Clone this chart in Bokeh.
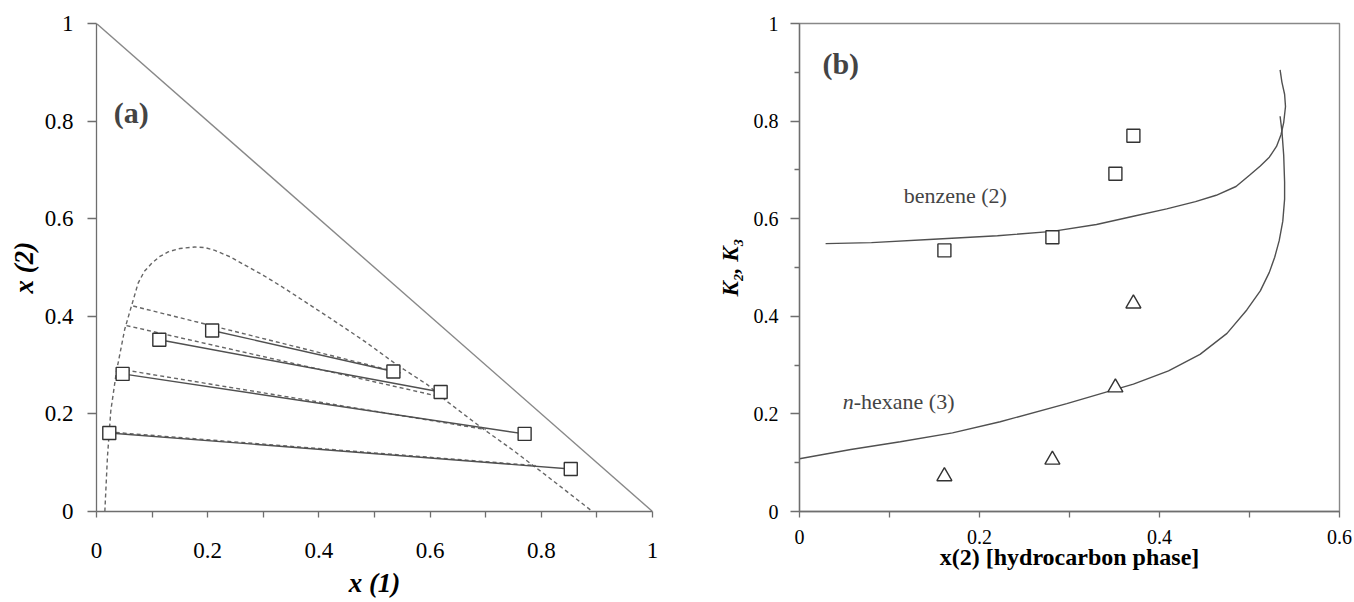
from bokeh.plotting import figure
from bokeh.models import FixedTicker, Label, ColumnDataSource
from bokeh.layouts import row
from bokeh.embed import file_html
from bokeh.resources import INLINE

FONT = "Liberation Serif"

# ---------------- Panel (a): ternary diagram data ----------------
binodal_x1 = [0.015, 0.0197, 0.0257, 0.0359, 0.0509, 0.0629, 0.0749, 0.086, 0.0989, 0.1130,
              0.1289, 0.150, 0.1769, 0.195, 0.2129, 0.240, 0.2669, 0.300, 0.333, 0.360, 0.387,
              0.435, 0.487, 0.541, 0.595, 0.631, 0.691, 0.751, 0.811, 0.892]
binodal_x2 = [0.0, 0.112, 0.206, 0.287, 0.374, 0.421, 0.468, 0.492, 0.508, 0.522,
              0.532, 0.539, 0.542, 0.541, 0.535, 0.522, 0.505, 0.484, 0.461, 0.441, 0.421,
              0.385, 0.345, 0.300, 0.260, 0.225, 0.173, 0.124, 0.072, 0.0]

# experimental tie lines (left end / right end)
exp_left_x1 = [0.023, 0.047, 0.113, 0.208]
exp_left_x2 = [0.161, 0.282, 0.352, 0.371]
exp_right_x1 = [0.853, 0.770, 0.619, 0.534]
exp_right_x2 = [0.087, 0.159, 0.245, 0.287]

# predicted tie lines (dashed)
pred_left_x1 = [0.022, 0.040, 0.054, 0.066]
pred_left_x2 = [0.163, 0.292, 0.381, 0.421]
pred_right_x1 = [0.790, 0.700, 0.619, 0.547]
pred_right_x2 = [0.094, 0.168, 0.235, 0.284]

edge_x1 = [0.0, 1.0]
edge_x2 = [1.0, 0.0]

ticks_a = [0, 0.2, 0.4, 0.6, 0.8, 1.0]
minor_a = [0.1, 0.3, 0.5, 0.7, 0.9]
tick_labels_a = ["0", "0.2", "0.4", "0.6", "0.8", "1"]

# ---------------- Panel (b): distribution coefficients ----------------
x2_hc = [0.161, 0.281, 0.351, 0.371]
K2_exp = [0.535, 0.562, 0.692, 0.770]
K3_exp = [0.072, 0.106, 0.254, 0.426]

K2_curve_x = [0.029, 0.08, 0.149, 0.22, 0.281, 0.33, 0.371, 0.408, 0.440, 0.463, 0.485, 0.500,
              0.512, 0.522, 0.530, 0.535, 0.538, 0.540, 0.539, 0.536, 0.534]
K2_curve_y = [0.549, 0.551, 0.558, 0.565, 0.574, 0.588, 0.605, 0.620, 0.635, 0.648, 0.666, 0.689,
              0.708, 0.726, 0.748, 0.772, 0.797, 0.830, 0.855, 0.880, 0.905]
K3_curve_x = [0.0, 0.057, 0.112, 0.17, 0.223, 0.297, 0.371, 0.410, 0.445, 0.475, 0.497, 0.512,
              0.522, 0.528, 0.533, 0.537, 0.539, 0.539, 0.538, 0.536, 0.534]
K3_curve_y = [0.108, 0.127, 0.143, 0.161, 0.184, 0.221, 0.261, 0.288, 0.322, 0.365, 0.413, 0.452,
              0.490, 0.521, 0.555, 0.595, 0.640, 0.675, 0.730, 0.780, 0.810]

xticks_b = [0, 0.2, 0.4, 0.6]
xminor_b = [0.1, 0.3, 0.5]
xtick_labels_b = ["0", "0.2", "0.4", "0.6"]
yticks_b = [0, 0.2, 0.4, 0.6, 0.8, 1.0]
yminor_b = [0.1, 0.3, 0.5, 0.7, 0.9]
ytick_labels_b = ["0", "0.2", "0.4", "0.6", "0.8", "1"]

AX = "#6e6e6e"
LINE = "#505050"
DASH = "#666666"
MK = "#333333"


def style_axis(ax, ticks, minor, labels, tick_size, title_size):
    ax.ticker = FixedTicker(ticks=ticks, minor_ticks=minor)
    ax.major_label_overrides = {t: s for t, s in zip(ticks, labels)}
    ax.axis_line_color = AX
    ax.axis_line_width = 1.3
    ax.major_tick_line_color = AX
    ax.minor_tick_line_color = AX
    ax.major_tick_line_width = 1.3
    ax.minor_tick_line_width = 1.3
    ax.major_tick_in = 0
    ax.minor_tick_in = 0
    ax.major_label_text_font = FONT
    ax.major_label_text_font_size = tick_size
    ax.major_label_text_color = "black"
    ax.axis_label_text_font = FONT
    ax.axis_label_text_font_size = title_size
    ax.axis_label_text_color = "black"


# ---------- figure (a) ----------
p1 = figure(width=680, height=602, x_range=(0, 1), y_range=(0, 1),
            output_backend="svg", toolbar_location=None,
            min_border_left=96, min_border_right=28, min_border_top=23, min_border_bottom=83)
p1.outline_line_color = None
p1.background_fill_color = "white"
p1.border_fill_color = "white"
p1.xgrid.visible = False
p1.ygrid.visible = False
xa1 = p1.xaxis[0]
ya1 = p1.yaxis[0]
style_axis(xa1, ticks_a, minor_a, tick_labels_a, "23px", "27px")
style_axis(ya1, ticks_a, [], tick_labels_a, "23px", "27px")
xa1.major_tick_out = 6
xa1.minor_tick_out = 6
xa1.major_label_standoff = 25
ya1.major_tick_out = 9
ya1.minor_tick_out = 0
ya1.major_label_standoff = 14
xa1.axis_label = "x (1)"
xa1.axis_label_text_font_style = "bold italic"
xa1.axis_label_standoff = 7
ya1.axis_label = "x (2)"
ya1.axis_label_text_font_style = "bold italic"
ya1.axis_label_standoff = 3

p1.line(edge_x1, edge_x2, line_color="#888888", line_width=1.4)
p1.line(binodal_x1, binodal_x2, line_color=DASH, line_width=1.4, line_dash="4 3")

pred_src = ColumnDataSource(dict(x0=pred_left_x1, y0=pred_left_x2, x1=pred_right_x1, y1=pred_right_x2))
p1.segment("x0", "y0", "x1", "y1", source=pred_src, line_color=DASH, line_width=1.4, line_dash="4 3")

exp_src = ColumnDataSource(dict(x0=exp_left_x1, y0=exp_left_x2, x1=exp_right_x1, y1=exp_right_x2))
p1.segment("x0", "y0", "x1", "y1", source=exp_src, line_color=LINE, line_width=1.4)
p1.scatter(exp_left_x1 + exp_right_x1, exp_left_x2 + exp_right_x2, marker="square", size=13,
           fill_color="white", line_color=MK, line_width=1.4)

p1.add_layout(Label(x=0.031, y=0.818, text="(a)", text_font=FONT, text_font_size="30px",
                    text_font_style="bold", text_align="left", text_baseline="middle"))

# ---------- figure (b) ----------
p2 = figure(width=674, height=602, x_range=(0, 0.6), y_range=(0, 1),
            output_backend="svg", toolbar_location=None,
            min_border_left=119, min_border_right=15, min_border_top=16, min_border_bottom=91)
p2.outline_line_color = "#888888"
p2.outline_line_width = 1.4
p2.background_fill_color = "white"
p2.border_fill_color = "white"
p2.xgrid.visible = False
p2.ygrid.visible = False
xa2 = p2.xaxis[0]
ya2 = p2.yaxis[0]
style_axis(xa2, xticks_b, xminor_b, xtick_labels_b, "20px", "24px")
style_axis(ya2, yticks_b, yminor_b, ytick_labels_b, "20px", "23px")
xa2.major_tick_out = 6
xa2.minor_tick_out = 6
xa2.major_label_standoff = 12
ya2.major_tick_out = 9
ya2.minor_tick_out = 5
ya2.major_label_standoff = 12
xa2.axis_label = "x(2) [hydrocarbon phase]"
xa2.axis_label_text_font_style = "bold"
xa2.axis_label_standoff = -3
ya2.axis_label = "K₂, K₃"
ya2.axis_label_text_font_style = "bold italic"
ya2.axis_label_standoff = 8

p2.line(K2_curve_x, K2_curve_y, line_color=LINE, line_width=1.4)
p2.line(K3_curve_x, K3_curve_y, line_color=LINE, line_width=1.4)
p2.scatter(x2_hc, K2_exp, marker="square", size=13, fill_color="white", line_color=MK, line_width=1.4)
p2.scatter(x2_hc, K3_exp, marker="triangle", size=15, fill_color="white", line_color=MK, line_width=1.4)

p2.add_layout(Label(x=0.0255, y=0.918, text="(b)", text_font=FONT, text_font_size="30px",
                    text_font_style="bold", text_align="left", text_baseline="middle"))
p2.add_layout(Label(x=0.1157, y=0.648, text="benzene (2)", text_font=FONT, text_font_size="22px",
                    text_align="left", text_baseline="middle"))
p2.add_layout(Label(x=0.048, y=0.2256, text="n", text_font=FONT, text_font_size="22px",
                    text_font_style="italic", text_align="left", text_baseline="middle"))
p2.add_layout(Label(x=0.0602, y=0.2256, text="-hexane (3)", text_font=FONT, text_font_size="22px",
                    text_align="left", text_baseline="middle"))

layout = row(p1, p2)
open("out.html", "w").write(file_html(layout, INLINE))
